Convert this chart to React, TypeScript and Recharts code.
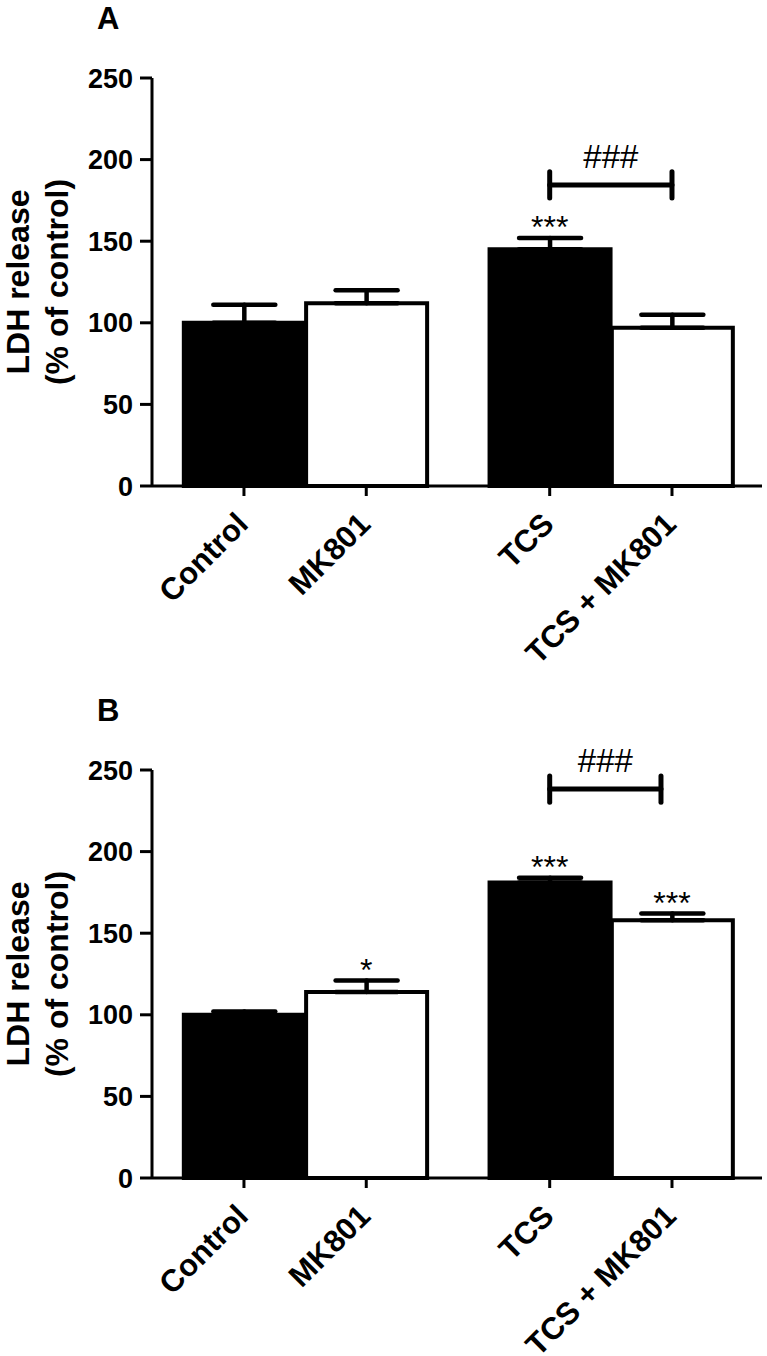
import React from "react";
import {
  BarChart,
  Bar,
  XAxis,
  YAxis,
  Cell,
  ErrorBar,
  ReferenceLine,
  ReferenceDot,
} from "recharts";

const groups = ["Control", "MK801", "TCS", "TCS + MK801"];
const groupPos = [0, 1, 2.5, 3.5];
const barFills = ["#000000", "#ffffff", "#000000", "#ffffff"];
const yTicks = [0, 50, 100, 150, 200, 250];

// panel A
const meanA = [100, 112, 145, 97];
const semA = [11, 8, 7, 8];
const starsA = ["", "", "***", ""];
const bracketA = { from: 2.5, to: 3.5, y: 184.5, text: "###" };

// panel B
const meanB = [100, 114, 181, 158];
const semB = [2, 7, 3, 4];
const starsB = ["", "*", "***", "***"];
const bracketB = { from: 2.5, to: 3.41, y: 238.3, text: "###" };

const FONT = "'Liberation Sans', Arial, Helvetica, sans-serif";

const YTitle = (props: any) => {
  const { viewBox, panel } = props;
  const cy = viewBox.y + viewBox.height / 2;
  return (
    <g fontWeight="bold" fill="#000">
      <text x={97} y={29} fontSize={31}>
        {panel}
      </text>
      <text
        x={29}
        y={cy}
        fontSize={32}
        textAnchor="middle"
        transform={`rotate(-90, 29, ${cy})`}
      >
        LDH release
      </text>
      <text
        x={68}
        y={cy}
        fontSize={32}
        textAnchor="middle"
        transform={`rotate(-90, 68, ${cy})`}
      >
        (% of control)
      </text>
    </g>
  );
};

const XTick = (props: any) => {
  const { x, y, payload } = props;
  const name = groups[groupPos.indexOf(payload.value)];
  const ax = x + 6;
  const ay = y + 28;
  return (
    <text
      x={ax}
      y={ay}
      textAnchor="end"
      fontSize={31}
      fontWeight="bold"
      fill="#000"
      transform={`rotate(-45, ${ax}, ${ay})`}
    >
      {name}
    </text>
  );
};

const Panel = ({
  panel,
  mean,
  sem,
  stars,
  bracket,
  height,
  xAxisHeight,
}: {
  panel: string;
  mean: number[];
  sem: number[];
  stars: string[];
  bracket: { from: number; to: number; y: number; text: string };
  height: number;
  xAxisHeight: number;
}) => {
  const rows = groups.map((name, i) => ({
    name,
    pos: groupPos[i],
    mean: mean[i],
    err: [0, sem[i]],
  }));

  return (
    <BarChart
      width={767}
      height={height}
      data={rows}
      margin={{ top: 78, right: 5, left: 0, bottom: height - 486 - xAxisHeight }}
      style={{ fontFamily: FONT }}
    >
      <XAxis
        type="number"
        dataKey="pos"
        domain={[-0.752, 4.236]}
        ticks={groupPos}
        allowDataOverflow
        height={xAxisHeight}
        tickSize={10}
        tick={<XTick />}
        axisLine={{ stroke: "#000", strokeWidth: 3 }}
        tickLine={{ stroke: "#000", strokeWidth: 3 }}
      />
      <YAxis
        type="number"
        domain={[0, 250]}
        ticks={yTicks}
        width={152}
        tickSize={12}
        tickMargin={7}
        axisLine={{ stroke: "#000", strokeWidth: 3 }}
        tickLine={{ stroke: "#000", strokeWidth: 3 }}
        tick={{ fill: "#000", fontSize: 27, fontWeight: "bold" }}
        label={<YTitle panel={panel} />}
      />
      <Bar
        dataKey="mean"
        barSize={121}
        stroke="#000"
        strokeWidth={4}
        isAnimationActive={false}
      >
        {rows.map((r, i) => (
          <Cell key={r.name} fill={barFills[i]} />
        ))}
        <ErrorBar
          dataKey="err"
          direction="y"
          width={31}
          stroke="#000"
          strokeWidth={4.5}
          strokeLinecap="round"
          isAnimationActive={false}
        />
      </Bar>
      {stars.map((s, i) =>
        s ? (
          <ReferenceDot
            key={"star" + i}
            x={groupPos[i]}
            y={mean[i] + sem[i]}
            r={0}
            stroke="none"
            fill="none"
            label={{ value: s, position: "top", offset: 0, fontSize: 32, fill: "#000" }}
          />
        ) : null
      )}
      <ReferenceLine
        segment={[
          { x: bracket.from, y: bracket.y },
          { x: bracket.to, y: bracket.y },
        ]}
        stroke="#000"
        strokeWidth={5}
        strokeLinecap="round"
        label={{ value: bracket.text, position: "top", offset: 17, fontSize: 33, fill: "#000" }}
      />
      <ReferenceLine
        segment={[
          { x: bracket.from, y: bracket.y - 8 },
          { x: bracket.from, y: bracket.y + 8 },
        ]}
        stroke="#000"
        strokeWidth={5}
        strokeLinecap="round"
      />
      <ReferenceLine
        segment={[
          { x: bracket.to, y: bracket.y - 8 },
          { x: bracket.to, y: bracket.y + 8 },
        ]}
        stroke="#000"
        strokeWidth={5}
        strokeLinecap="round"
      />
    </BarChart>
  );
};

export default function App() {
  return (
    <div style={{ position: "absolute", left: 0, top: 0, width: 767, height: 1356, background: "#fff" }}>
      <div style={{ position: "absolute", left: 0, top: 0 }}>
        <Panel
          panel="A"
          mean={meanA}
          sem={semA}
          stars={starsA}
          bracket={bracketA}
          height={692}
          xAxisHeight={180}
        />
      </div>
      <div style={{ position: "absolute", left: 0, top: 692 }}>
        <Panel
          panel="B"
          mean={meanB}
          sem={semB}
          stars={starsB}
          bracket={bracketB}
          height={664}
          xAxisHeight={170}
        />
      </div>
    </div>
  );
}
